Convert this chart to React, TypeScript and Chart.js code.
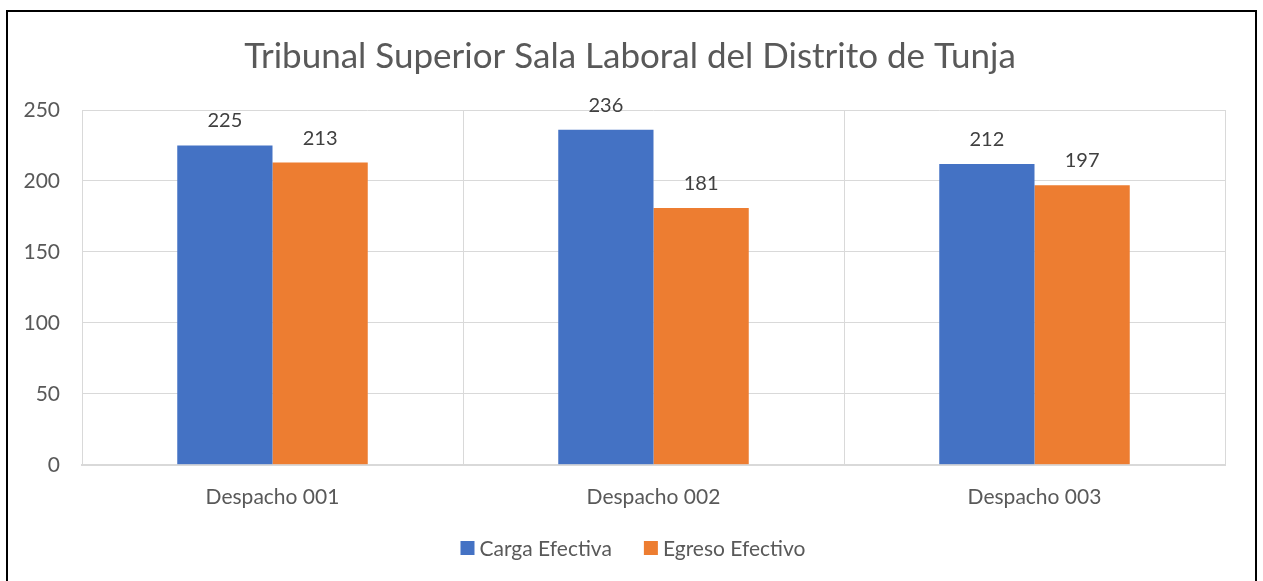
import React, { useEffect, useRef } from "react";
import { Chart, registerables } from "chart.js";

Chart.register(...registerables);

const categories = ["Despacho 001", "Despacho 002", "Despacho 003"];
const cargaEfectiva = [225, 236, 212];
const egresoEfectivo = [213, 181, 197];
const titleText = "Tribunal Superior Sala Laboral del Distrito de Tunja";

const FONT = "Lato, 'Open Sans', sans-serif";

const dataLabels = {
  id: "dataLabels",
  afterDatasetsDraw(chart: any) {
    const ctx = chart.ctx;
    ctx.save();
    ctx.font = `20px ${FONT}`;
    ctx.fillStyle = "#404040";
    ctx.textAlign = "center";
    ctx.textBaseline = "alphabetic";
    chart.data.datasets.forEach((ds: any, i: number) => {
      const meta = chart.getDatasetMeta(i);
      meta.data.forEach((el: any, j: number) => {
        ctx.fillText(String(ds.data[j]), el.x, el.y - 18);
      });
    });
    ctx.restore();
  },
};

const titleAndLegend = {
  id: "titleAndLegend",
  afterDraw(chart: any) {
    const ctx = chart.ctx;
    ctx.save();
    // title
    ctx.font = `35px ${FONT}`;
    ctx.fillStyle = "#595959";
    ctx.textAlign = "center";
    ctx.textBaseline = "alphabetic";
    ctx.fillText(titleText, 630, 68);
    // legend
    ctx.font = `21px ${FONT}`;
    ctx.textAlign = "left";
    ctx.textBaseline = "middle";
    const box = 14;
    const gapText = 5;
    const gapItem = 32;
    const items = chart.data.datasets.map((ds: any) => ({
      text: ds.label,
      color: ds.backgroundColor,
      w: box + gapText + ctx.measureText(ds.label).width,
    }));
    const total = items.reduce((s: number, it: any) => s + it.w, 0) + gapItem * (items.length - 1);
    let x = 633 - total / 2;
    const cy = 548;
    items.forEach((it: any) => {
      ctx.fillStyle = it.color;
      ctx.fillRect(x, cy - box / 2, box, box);
      ctx.fillStyle = "#595959";
      ctx.fillText(it.text, x + box + gapText, cy + 1);
      x += it.w + gapItem;
    });
    ctx.restore();
  },
};

export default function App() {
  const ref = useRef<HTMLCanvasElement>(null);
  useEffect(() => {
    if (!ref.current) return;
    const chart = new Chart(ref.current, {
      type: "bar",
      data: {
        labels: categories,
        datasets: [
          {
            label: "Carga Efectiva",
            data: cargaEfectiva,
            backgroundColor: "#4472C4",
            borderWidth: 0,
          },
          {
            label: "Egreso Efectivo",
            data: egresoEfectivo,
            backgroundColor: "#ED7D31",
            borderWidth: 0,
          },
        ],
      },
      options: {
        animation: false,
        responsive: false,
        maintainAspectRatio: false,
        layout: { padding: { left: 14, right: 38, top: 110, bottom: 51 } },
        datasets: {
          bar: { categoryPercentage: 0.5, barPercentage: 1 },
        },
        plugins: {
          title: { display: false },
          legend: { display: false },
          tooltip: { enabled: false },
        },
        scales: {
          x: {
            grid: { color: "#d9d9d9", drawTicks: false, offset: true },
            border: { color: "#d9d9d9", width: 2 },
            ticks: {
              color: "#595959",
              font: { family: FONT, size: 21 },
              padding: 20,
            },
          },
          y: {
            min: 0,
            max: 250,
            ticks: {
              stepSize: 50,
              color: "#595959",
              font: { family: FONT, size: 21 },
              padding: 22,
            },
            grid: { color: "#d9d9d9", drawTicks: false },
            border: { display: false },
            afterFit(scale: any) {
              scale.width = 68;
            },
          },
        },
      },
      plugins: [dataLabels, titleAndLegend],
    });
    return () => chart.destroy();
  }, []);

  return (
    <div style={{ position: "fixed", left: 0, top: 0, width: 1263, height: 581, background: "#fff" }}>
      <canvas ref={ref} width={1263} height={581} style={{ position: "absolute", left: 0, top: 0 }} />
      <div
        style={{
          position: "absolute",
          left: 6,
          top: 10,
          width: 1251,
          height: 600,
          border: "2px solid #000",
          boxSizing: "border-box",
          pointerEvents: "none",
        }}
      />
    </div>
  );
}
